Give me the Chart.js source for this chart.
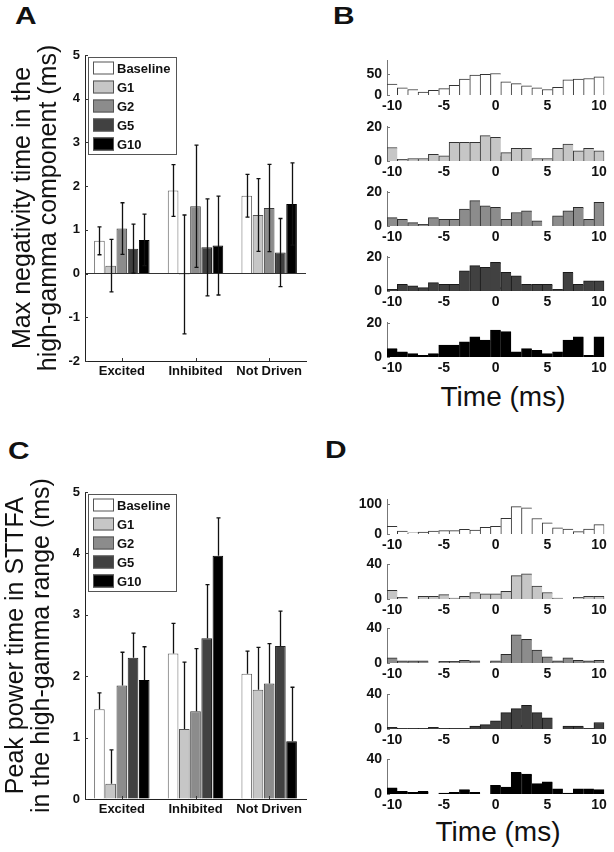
<!DOCTYPE html>
<html><head><meta charset="utf-8">
<script src="https://cdn.jsdelivr.net/npm/chart.js@4.4.0/dist/chart.umd.min.js"></script>
<style>
body{margin:0;background:#fff;width:614px;height:852px;position:relative;overflow:hidden;font-family:"Liberation Sans",Arial,sans-serif;color:#111;}
canvas{position:absolute;}
.letter{position:absolute;font-weight:bold;font-size:23px;line-height:23px;transform-origin:left top;transform:scaleX(1.3);}
.tlab{position:absolute;width:200px;text-align:center;font-size:28px;line-height:32px;}
</style></head>
<body>
<div class="letter" style="left:15px;top:5px">A</div>
<div class="letter" style="left:333px;top:5px">B</div>
<div class="letter" style="left:8px;top:440px">C</div>
<div class="letter" style="left:325px;top:439px">D</div>
<div class="tlab" style="left:403px;top:381px">Time (ms)</div>
<div class="tlab" style="left:398px;top:816px">Time (ms)</div>

<canvas id="pA" width="310" height="400" style="left:0;top:0"></canvas>
<canvas id="pC" width="310" height="420" style="left:0;top:420px"></canvas>
<canvas id="b0" width="270" height="70" style="left:340px;top:47px"></canvas>
<canvas id="b1" width="270" height="70" style="left:340px;top:113px"></canvas>
<canvas id="b2" width="270" height="70" style="left:340px;top:178px"></canvas>
<canvas id="b3" width="270" height="70" style="left:340px;top:243px"></canvas>
<canvas id="b4" width="270" height="70" style="left:340px;top:309px"></canvas>
<canvas id="d0" width="270" height="70" style="left:340px;top:486px"></canvas>
<canvas id="d1" width="270" height="70" style="left:340px;top:551px"></canvas>
<canvas id="d2" width="270" height="70" style="left:340px;top:615px"></canvas>
<canvas id="d3" width="270" height="70" style="left:340px;top:681px"></canvas>
<canvas id="d4" width="270" height="70" style="left:340px;top:746px"></canvas>

<script>
// ---------- data ----------
const groups = ['Excited', 'Inhibited', 'Not Driven'];
const seriesNames = ['Baseline', 'G1', 'G2', 'G5', 'G10'];

// Panel A: max negativity time in the high-gamma component (ms)
const aBaseline = [0.75, 1.90, 1.78];
const aG1 = [0.18, -0.02, 1.34];
const aG2 = [1.03, 1.54, 1.50];
const aG5 = [0.57, 0.60, 0.48];
const aG10 = [0.77, 0.64, 1.59];
const aBaselineErr = [0.32, 0.59, 0.49];
const aG1Err = [0.60, 1.36, 0.83];
const aG2Err = [0.59, 1.40, 1.00];
const aG5Err = [0.56, 1.11, 0.78];
const aG10Err = [0.59, 1.13, 0.94];
const aYTicks = [-2, -1, 0, 1, 2, 3, 4, 5];

// Panel C: peak power time in STTFA (ms)
const cBaseline = [1.46, 2.37, 2.04];
const cG1 = [0.25, 1.14, 1.78];
const cG2 = [1.85, 1.43, 1.88];
const cG5 = [2.30, 2.62, 2.49];
const cG10 = [1.94, 3.96, 0.94];
const cBaselineErr = [0.27, 0.49, 0.37];
const cG1Err = [0.55, 1.09, 0.69];
const cG2Err = [0.54, 1.02, 0.65];
const cG5Err = [0.40, 0.87, 0.57];
const cG10Err = [0.54, 0.62, 0.88];
const cYTicks = [0, 1, 2, 3, 4, 5];

// Histograms (time bins in ms)
const timeBins = [-10, -9, -8, -7, -6, -5, -4, -3, -2, -1, 0, 1, 2, 3, 4, 5, 6, 7, 8, 9, 10];
const timeTicks = [-10, -5, 0, 5, 10];

// Panel B
const bBaseline = [26, 17, 13, 7, 11, 15, 23, 38, 47, 49, 51, 31, 27, 22, 17, 13, 18, 36, 38, 39, 43];
const bG1 = [8, 1, 1.5, 1.5, 4, 3, 11, 11, 11, 15, 14, 5, 7.5, 7.5, 1.5, 1.5, 7.5, 10, 6, 7.5, 6];
const bG2 = [5, 4, 2, 1, 5, 4, 4, 10, 15, 12, 11, 4, 8, 9, 3, 0, 6, 9, 11, 4, 14];
const bG5 = [1, 4, 3, 2, 5, 4, 4, 12, 15, 14, 17, 11, 9, 4, 4, 4, 1, 11, 4, 6, 6];
const bG10 = [5, 3, 2, 1, 2, 7, 7, 9, 12, 10, 16, 15, 3, 5, 4, 2, 3, 10, 12, 1, 12];
const bMarkerX = [1.27, 0.47, 1.30, 0.56, 0.95];
const bMarkerY = [6, 1.5, 1.5, 1.5, 1.5];
const bYMax = [82, 20.5, 20.5, 20.5, 20.5];
const bYTicks = [[0, 50], [0, 10, 20], [0, 10, 20], [0, 10, 20], [0, 10, 20]];

// Panel D
const dBaseline = [25, 10, 4, 6, 10, 11, 11, 15, 13, 22, 25, 52, 90, 86, 51, 37, 20, 16, 8, 16, 31];
const dG1 = [10, 2, 0, 3, 3, 5, 1, 3, 7.5, 6, 6, 9, 27, 29, 15, 7.5, 1, 0, 2, 3, 3];
const dG2 = [6, 2.5, 2.5, 2.5, 0, 2, 2, 3, 2.5, 0, 2.5, 10, 32.5, 27.5, 15, 7, 2.5, 6, 3, 2.5, 3];
const dG5 = [2, 0.7, 0.7, 0.7, 2, 0.7, 0.7, 0.7, 3.4, 5, 9.5, 19, 23.5, 27.5, 19, 13, 0, 3.4, 3.4, 0.7, 7.5];
const dG10 = [7, 3, 2, 3, 0, 1, 2, 5, 2, 0, 10, 8, 25, 23, 12, 14, 6, 1, 6, 6, 5];
const dMarkerX = [1.76, 0.89, 1.82, 2.40, 1.98];
const dMarkerY = [8, 3, 3, 3, 3];
const dYMax = [114, 40, 40, 40, 40];
const dYTicks = [[0, 50, 100], [0, 20, 40], [0, 20, 40], [0, 20, 40], [0, 20, 40]];

// ---------- styles ----------
const FONT = '"Liberation Sans", Arial, sans-serif';
Chart.defaults.font.family = FONT;
Chart.defaults.color = '#111';
const fills = ['#ffffff', '#c6c6c6', '#8c8c8c', '#414141', '#000000'];
const edges = ['#666666', '#555555', '#3a3a3a', '#222222', '#000000'];
const histEdges = ['#333333', '#333333', '#2a2a2a', '#1a1a1a', '#000000'];
const bMarkFill = ['#ffffff', '#444444', '#ffffff', '#414141', '#000000'];
const bMarkEdge = ['#000000', '#000000', '#000000', '#ffffff', '#ffffff'];
const dMarkFill = ['#ffffff', '#000000', '#000000', '#414141', '#000000'];
const dMarkEdge = ['#000000', '#000000', '#000000', '#ffffff', '#ffffff'];

// ---------- plugins ----------
const errorBars = {
  id: 'errorBars',
  afterDatasetsDraw(chart, args, opts) {
    const ctx = chart.ctx, ys = chart.scales.y;
    chart.data.datasets.forEach((ds, di) => {
      const meta = chart.getDatasetMeta(di);
      meta.data.forEach((bar, i) => {
        const m = ds.data[i], e = ds.errs[i];
        const yT = ys.getPixelForValue(m + e);
        const yB = ys.getPixelForValue(opts.upOnly ? m : m - e);
        const x = Math.round(bar.x) + 0.5;
        ctx.save();
        ctx.strokeStyle = '#111'; ctx.lineWidth = 1.3;
        ctx.beginPath();
        ctx.moveTo(x, yT); ctx.lineTo(x, yB);
        ctx.moveTo(x - 2, yT); ctx.lineTo(x + 2, yT);
        if (!opts.upOnly) { ctx.moveTo(x - 2, yB); ctx.lineTo(x + 2, yB); }
        ctx.stroke();
        ctx.restore();
      });
    });
  }
};

const boxLegend = {
  id: 'boxLegend',
  afterDraw(chart) {
    const ctx = chart.ctx, a = chart.chartArea;
    const x0 = Math.round(a.left) + 3, y0 = Math.round(a.top) + 2, w = 88, h = 97;
    ctx.save();
    ctx.fillStyle = '#fff'; ctx.fillRect(x0, y0, w, h);
    ctx.strokeStyle = '#555'; ctx.lineWidth = 1; ctx.strokeRect(x0 + 0.5, y0 + 0.5, w, h);
    chart.data.datasets.forEach((ds, i) => {
      const cy = y0 + 11 + i * 19;
      ctx.fillStyle = ds.backgroundColor;
      ctx.fillRect(x0 + 5, cy - 6.5, 21, 13);
      ctx.strokeStyle = '#555';
      ctx.strokeRect(x0 + 5.5, cy - 6, 20, 12);
      ctx.fillStyle = '#111';
      ctx.font = 'bold 13px ' + FONT;
      ctx.textBaseline = 'middle'; ctx.textAlign = 'left';
      ctx.fillText(ds.label, x0 + 29, cy + 1);
    });
    ctx.restore();
  }
};

const inTicks = {
  id: 'inTicks',
  afterDraw(chart, args, o) {
    const ctx = chart.ctx, ys = chart.scales.y, xs = chart.scales.x, a = chart.chartArea;
    ctx.save(); ctx.strokeStyle = o.color || '#444'; ctx.lineWidth = 1; ctx.beginPath();
    ys.ticks.forEach(t => {
      const p = Math.round(ys.getPixelForValue(t.value)) + 0.5;
      ctx.moveTo(a.left, p); ctx.lineTo(a.left + 3, p);
    });
    if (o.x) xs.ticks.forEach((t, i) => {
      const p = Math.round(xs.getPixelForTick(i)) + 0.5;
      ctx.moveTo(p, a.bottom); ctx.lineTo(p, a.bottom - 3);
    });
    ctx.stroke(); ctx.restore();
  }
};

// ---------- bar panels ----------
function barPanel(id, means, errs, yMin, yMax, yTicks, upOnly, title, padTop, xH, titlePad) {
  const datasets = seriesNames.map((n, i) => ({
    label: n, data: means[i], errs: errs[i],
    backgroundColor: fills[i], borderColor: edges[i], borderWidth: 1,
    categoryPercentage: 0.76, barPercentage: 0.95
  }));
  new Chart(document.getElementById(id), {
    type: 'bar',
    data: { labels: groups, datasets },
    options: {
      responsive: false, animation: false,
      layout: { padding: { top: padTop, right: 4, left: 0, bottom: 0 } },
      plugins: { legend: { display: false }, tooltip: { enabled: false }, errorBars: { upOnly }, inTicks: { x: true, color: '#333' } },
      scales: {
        x: {
          grid: { display: false, drawTicks: false },
          border: { display: true, color: '#222', width: 1 },
          ticks: { font: { size: 13, weight: 'bold' }, color: '#111', padding: 3 },
          afterFit(s) { s.height = xH; }
        },
        y: {
          min: yMin, max: yMax,
          afterBuildTicks(s) { s.ticks = yTicks.map(v => ({ value: v })); },
          grid: { drawTicks: false, lineWidth: 1, color: c => (c.tick && c.tick.value === 0 && yMin < 0) ? '#333' : 'rgba(0,0,0,0)' },
          border: { display: true, color: '#222', width: 1 },
          ticks: { font: { size: 13, weight: 'bold' }, color: '#111', padding: 5 },
          title: { display: true, text: title, color: '#111', font: { size: 25, lineHeight: 1.04 }, padding: { top: titlePad, bottom: 0 } },
          afterFit(s) { s.width = 85; }
        }
      }
    },
    plugins: [errorBars, boxLegend, inTicks]
  });
}

barPanel('pA', [aBaseline, aG1, aG2, aG5, aG10], [aBaselineErr, aG1Err, aG2Err, aG5Err, aG10Err],
  -2, 5, aYTicks, false, ['Max negativity time in the', 'high-gamma component (ms)'], 55, 39, 10);
barPanel('pC', [cBaseline, cG1, cG2, cG5, cG10], [cBaselineErr, cG1Err, cG2Err, cG5Err, cG10Err],
  0, 5, cYTicks, true, ['Peak power time in STTFA', 'in the high-gamma range (ms)'], 72, 41, 3);

// ---------- histograms ----------
function hist(id, counts, k, yMax, yTicks, mx, my, mFill, mEdge) {
  const last = counts.length - 1;
  new Chart(document.getElementById(id), {
    type: 'bar',
    data: {
      datasets: [
        {
          type: 'bar',
          data: timeBins.map((b, i) => ({ x: b, y: counts[i] })),
          backgroundColor: fills[k],
          borderColor: histEdges[k],
          borderWidth: c => ({ top: 1, left: 1, right: c.dataIndex === last ? 1 : 0, bottom: 0 }),
          borderSkipped: false,
          barPercentage: 1, categoryPercentage: 1
        },
        {
          type: 'scatter',
          data: [{ x: mx, y: my }],
          pointStyle: 'triangle', rotation: 180, radius: 3.3,
          backgroundColor: mFill, borderColor: mEdge, borderWidth: 1
        }
      ]
    },
    options: {
      responsive: false, animation: false,
      layout: { padding: { top: 8, right: 4, left: 0, bottom: 0 } },
      plugins: { legend: { display: false }, tooltip: { enabled: false }, inTicks: { x: false, color: '#777' } },
      scales: {
        x: {
          type: 'linear', min: -10.5, max: 10.5, offset: false,
          afterBuildTicks(s) { s.ticks = timeTicks.map(v => ({ value: v })); },
          grid: { display: false, drawTicks: false },
          border: { display: false },
          ticks: { font: { size: 14, weight: 'bold' }, color: '#111', padding: 3, maxRotation: 0, autoSkip: false },
          afterFit(s) { s.height = 22; }
        },
        y: {
          min: 0, max: yMax,
          afterBuildTicks(s) { s.ticks = yTicks.map(v => ({ value: v })); },
          grid: { display: false, drawTicks: false },
          border: { display: true, color: '#777', width: 1 },
          ticks: { font: { size: 14, weight: 'bold' }, color: '#111', padding: 5 },
          afterFit(s) { s.width = 47; }
        }
      }
    },
    plugins: [inTicks]
  });
}

const bRows = [bBaseline, bG1, bG2, bG5, bG10];
const dRows = [dBaseline, dG1, dG2, dG5, dG10];
bRows.forEach((r, k) => hist('b' + k, r, k, bYMax[k], bYTicks[k], bMarkerX[k], bMarkerY[k], bMarkFill[k], bMarkEdge[k]));
dRows.forEach((r, k) => hist('d' + k, r, k, dYMax[k], dYTicks[k], dMarkerX[k], dMarkerY[k], dMarkFill[k], dMarkEdge[k]));
</script>
</body></html>
